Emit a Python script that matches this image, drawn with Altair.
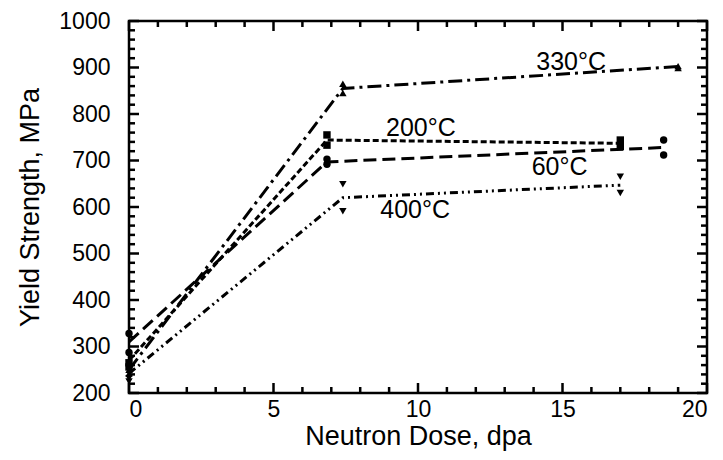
import altair as alt
import pandas as pd

# ---- data ----
series_names = ["60°C", "200°C", "330°C", "400°C"]

# measured points (two specimens per dose)
pt_60_x = [0, 0, 6.85, 6.85, 18.5, 18.5]
pt_60_y = [328, 287, 703, 692, 744, 712]
pt_200_x = [0, 0, 6.85, 6.85, 17, 17]
pt_200_y = [265, 256, 755, 733, 744, 730]
pt_330_x = [0, 0, 7.4, 7.4, 19, 19]
pt_330_y = [250, 242, 865, 845, 903, 899]
pt_400_x = [0, 0, 7.4, 7.4, 17, 17]
pt_400_y = [232, 225, 649, 591, 665, 630]

# trend line vertices
ln_60_x = [0, 6.85, 18.5]
ln_60_y = [310, 697, 728]
ln_200_x = [0, 6.85, 17]
ln_200_y = [270, 744, 737]
ln_330_x = [0, 7.4, 19]
ln_330_y = [250, 855, 902]
ln_400_x = [0, 7.4, 17]
ln_400_y = [242, 620, 647]

# in-plot labels
label_text = ["330°C", "200°C", "60°C", "400°C"]
label_x = [15.3, 10.1, 14.9, 9.9]
label_y = [912, 769, 686, 594]

# axis ticks
x_major = [0, 5, 10, 15, 20]
x_minor = [1, 2, 3, 4, 6, 7, 8, 9, 11, 12, 13, 14, 16, 17, 18, 19]
y_major = [200, 300, 400, 500, 600, 700, 800, 900, 1000]
y_minor = [220, 240, 260, 280, 320, 340, 360, 380, 420, 440, 460, 480,
           520, 540, 560, 580, 620, 640, 660, 680, 720, 740, 760, 780,
           820, 840, 860, 880, 920, 940, 960, 980]

X_DOM = [0, 20]
Y_DOM = [200, 1000]

# ---- tables ----
pts = pd.concat([
    pd.DataFrame({"x": pt_60_x, "y": pt_60_y, "s": series_names[0]}),
    pd.DataFrame({"x": pt_200_x, "y": pt_200_y, "s": series_names[1]}),
    pd.DataFrame({"x": pt_330_x, "y": pt_330_y, "s": series_names[2]}),
    pd.DataFrame({"x": pt_400_x, "y": pt_400_y, "s": series_names[3]}),
], ignore_index=True)
lns = pd.concat([
    pd.DataFrame({"x": ln_60_x, "y": ln_60_y, "s": series_names[0]}),
    pd.DataFrame({"x": ln_200_x, "y": ln_200_y, "s": series_names[1]}),
    pd.DataFrame({"x": ln_330_x, "y": ln_330_y, "s": series_names[2]}),
    pd.DataFrame({"x": ln_400_x, "y": ln_400_y, "s": series_names[3]}),
], ignore_index=True)
labels = pd.DataFrame({"t": label_text, "x": label_x, "y": label_y})

W, H = 578, 372
FONT = "Liberation Sans"
MAJOR_LEN, MINOR_LEN = 10, 6  # tick lengths, pixels

# tick lengths in pixels, turned into data units of each scale
px_x = (X_DOM[1] - X_DOM[0]) / W
px_y = (Y_DOM[1] - Y_DOM[0]) / H

# vertical tick segments (bottom and top edges), pointing into the plot
vt_rows = []
for vals, ln in ((x_major, MAJOR_LEN), (x_minor, MINOR_LEN)):
    for v in vals:
        vt_rows.append({"tx": v, "ty0": Y_DOM[0], "ty1": Y_DOM[0] + ln * px_y})
        vt_rows.append({"tx": v, "ty0": Y_DOM[1], "ty1": Y_DOM[1] - ln * px_y})
vt = pd.DataFrame(vt_rows)
# horizontal tick segments (left and right edges), pointing into the plot
ht_rows = []
for vals, ln in ((y_major, MAJOR_LEN), (y_minor, MINOR_LEN)):
    for v in vals:
        ht_rows.append({"hy": v, "hx0": X_DOM[0], "hx1": X_DOM[0] + ln * px_x})
        ht_rows.append({"hy": v, "hx0": X_DOM[1], "hx1": X_DOM[1] - ln * px_x})
ht = pd.DataFrame(ht_rows)

xs = alt.Scale(domain=X_DOM, nice=False, zero=False)
ys = alt.Scale(domain=Y_DOM, nice=False, zero=False)

x_axis = alt.Axis(values=x_major, format="d", title="Neutron Dose, dpa", ticks=False,
                  domain=False, grid=False, labelPadding=5, labelFontSize=23,
                  titleFontSize=27, titleFontWeight="normal", titlePadding=2,
                  labelFont=FONT, titleFont=FONT, labelColor="black",
                  titleColor="black")
y_axis = alt.Axis(values=y_major, format="d", title="Yield Strength, MPa", ticks=False,
                  domain=False, grid=False, labelPadding=19, labelFontSize=23,
                  titleFontSize=27, titleFontWeight="normal", titlePadding=14,
                  labelFont=FONT, titleFont=FONT, labelColor="black",
                  titleColor="black")

vticks = alt.Chart(vt).mark_rule(color="black", strokeWidth=2.5).encode(
    x=alt.X("tx:Q", scale=xs, axis=x_axis),
    y=alt.Y("ty0:Q", scale=ys, axis=y_axis),
    y2="ty1:Q",
)
hticks = alt.Chart(ht).mark_rule(color="black", strokeWidth=2.5).encode(
    y=alt.Y("hy:Q", scale=ys),
    x=alt.X("hx0:Q", scale=xs),
    x2="hx1:Q",
)

lines = alt.Chart(lns).mark_line(color="black", strokeWidth=3).encode(
    x=alt.X("x:Q", scale=xs),
    y=alt.Y("y:Q", scale=ys),
    strokeDash=alt.StrokeDash("s:N", scale=alt.Scale(
        domain=series_names,
        range=[[13, 6], [6, 3], [14, 5, 3, 5], [8, 4, 2, 4, 2, 4]]), legend=None),
    detail="s:N",
)

points = alt.Chart(pts).mark_point(filled=True, color="black", opacity=1, size=55).encode(
    x=alt.X("x:Q", scale=xs),
    y=alt.Y("y:Q", scale=ys),
    shape=alt.Shape("s:N", scale=alt.Scale(
        domain=series_names,
        range=["circle", "square", "triangle-up", "triangle-down"]), legend=None),
)

texts = alt.Chart(labels).mark_text(font=FONT, fontSize=25, color="black").encode(
    x=alt.X("x:Q", scale=xs),
    y=alt.Y("y:Q", scale=ys),
    text="t:N",
)

chart = alt.layer(vticks, hticks, lines, points, texts).properties(
    width=W, height=H,
    autosize=alt.AutoSizeParams(type="none"),
    padding={"left": 129, "top": 21, "right": 16, "bottom": 67},
).configure_view(stroke="black", strokeWidth=2.5)

chart.save("out.html", embed_options={"renderer": "svg", "actions": False})
